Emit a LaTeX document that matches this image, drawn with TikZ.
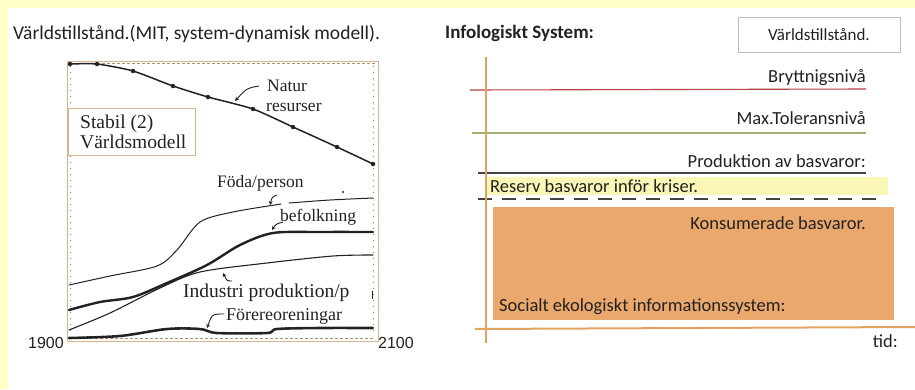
\documentclass[tikz,border=0pt]{standalone}
\usepackage{fontspec}
\setmainfont{Carlito}
\newfontfamily\plotfont{Liberation Serif}
\newfontfamily\numfont{Liberation Sans}
\usetikzlibrary{arrows.meta}
\definecolor{pagebg}{HTML}{FFFFC8}
\definecolor{frametan}{HTML}{D8B48E}
\definecolor{axisorange}{HTML}{E2A262}
\definecolor{breakred}{HTML}{B84040}
\definecolor{tolgreen}{HTML}{A0B070}
\definecolor{reserveyellow}{HTML}{FAF7B6}
\definecolor{consumed}{HTML}{EAA86C}
\definecolor{boxgray}{HTML}{BBBBBB}
\definecolor{ink}{HTML}{222222}
\tikzset{
  txt/.style={inner sep=0pt, text=ink, font=\fontsize{18.5}{21}\selectfont},
  plotlabel/.style={inner sep=0pt, text=ink, font=\plotfont\fontsize{17.5}{19}\selectfont},
  yearlabel/.style={inner sep=0pt, text=ink, font=\numfont\fontsize{16}{18}\selectfont},
  curve/.style={ink, line width=1.1pt, line cap=round, line join=round},
  curl/.style={ink, line width=0.9pt, -{Stealth[length=4pt,width=4pt]}},
  rdot/.style={circle, fill=ink, inner sep=0pt, minimum size=4.5pt},
  level/.style={line width=1.1pt}
}
\begin{document}
\begin{tikzpicture}[x=1pt,y=-1pt]
\useasboundingbox (0,0) rectangle (915,389);
% page background with the light yellow margin
\fill[pagebg] (0,0) rectangle (915,389);
\fill[white] (8,8) rectangle (915,389);

% ---------------- left: world model plot ----------------
\node[txt, font=\fontsize{19.5}{21}\selectfont, anchor=west] (lefttitle) at (13,34) {Världstillstånd.(MIT, system-dynamisk modell).};

\draw[frametan, line width=0.9pt] (67,61) rectangle (378,341);
\draw[frametan!80!black, line width=0.8pt, dash pattern=on 3pt off 2pt] (97,63) -- (375,63);
\draw[frametan!80!black, line width=0.8pt, dash pattern=on 3pt off 2pt] (70,338) -- (375,338);
\draw[frametan!70!black, line width=1pt, dash pattern=on 1pt off 5pt] (70,66) -- (70,336);
\draw[frametan!70!black, line width=1pt, dash pattern=on 1pt off 5pt] (373,66) -- (373,336);

\node[draw=frametan, line width=0.9pt, fill=white, minimum width=127pt, minimum height=47pt, anchor=north west, inner sep=0pt] (stabil) at (68,108) {};
\node[plotlabel, font=\plotfont\fontsize{19.5}{21}\selectfont, anchor=west, align=left] (stabiltext) at (80,132) {Stabil (2)\\[-1pt]Världsmodell};

% natural resources
\draw[curve, line width=1.5pt] plot[smooth, tension=0.4] coordinates {(70,64) (97,64) (133,71) (173,86) (208,97) (253,109) (293,127) (337,147) (373,164)};
\foreach \p [count=\i] in {(70,64),(97,64),(133,71),(173,86),(208,97),(253,109),(293,127),(337,147),(373,164)}
  \node[rdot] (nr\i) at \p {};
\node[plotlabel, anchor=west] (natur) at (267,86) {Natur};
\node[plotlabel, anchor=west] (resurser) at (266,107) {resurser};
\coordinate (naturtip) at (235,101);
\draw[curl] (natur.west) ++(-8,0) .. controls +(-12,2) .. (naturtip);

% food per person
\draw[curve, line width=1pt] plot[smooth, tension=0.5] coordinates {(69,285) (110,276) (157,266) (177,250) (200,222) (233,212) (281,204)};
\draw[curve, line width=1pt] plot[smooth, tension=0.5] coordinates {(289,203) (330,200) (373,198)};
\node[plotlabel, anchor=west] (foda) at (217,183) {Föda/person};
\coordinate (fodatip) at (270,205);
\draw[curl] (277,195) .. controls (272,197) .. (fodatip);
\fill[ink] (343,192) circle (1.2pt);

% population
\draw[curve, line width=2.4pt] plot[smooth, tension=0.5] coordinates {(69,310) (100,302) (133,297) (167,283) (207,265) (240,245) (273,233) (320,232) (373,232)};
\node[plotlabel, anchor=west] (befolkning) at (280,217) {befolkning};
\coordinate (beftip) at (272,230);
\draw[curl] (283,222) .. controls (276,224) .. (beftip);

% industrial output per person
\draw[curve, line width=1.1pt] plot[smooth, tension=0.5] coordinates {(69,330) (110,313) (160,288) (200,272) (267,263) (333,256) (373,255)};
\node[plotlabel, font=\plotfont\fontsize{19.5}{21}\selectfont, anchor=west] (industri) at (183,293) {Industri produktion/p};
\coordinate (indtip) at (223,273);
\draw[curl] (232,281) .. controls (227,281) .. (indtip);
\draw[ink, line width=1pt] (372,291) -- (372,299);

% pollution
\draw[curve, line width=2.6pt, dash pattern=on 2.5pt off 0.8pt] plot[smooth, tension=0.5] coordinates {(69,338) (120,336) (167,329) (200,329) (217,333) (267,333) (277,329) (320,328) (373,328)};
\node[plotlabel, font=\plotfont\fontsize{18}{20}\selectfont, anchor=west] (fororening) at (226,316) {Förereoreningar};
\coordinate (fortip) at (207,328);
\draw[curl] (224,314) .. controls (212,314) .. (fortip);

\node[yearlabel, anchor=east] (y1900) at (64,343) {1900};
\node[yearlabel, anchor=west] (y2100) at (378,343) {2100};

% ---------------- right: infological system ----------------
\node[txt, font=\bfseries\fontsize{19}{21}\selectfont, anchor=west] (infotitle) at (445,33) {Infologiskt System:};
\node[draw=boxgray, line width=0.8pt, minimum width=162pt, minimum height=35pt, inner sep=0pt, txt, font=\fontsize{17}{19}\selectfont] (state) at (819,34.5) {Världstillstånd.};

% levels
\coordinate (redL) at (470,90);   \coordinate (redR) at (866,89);
\coordinate (greenL) at (472,133); \coordinate (greenR) at (866,133);
\coordinate (blackL) at (478,173); \coordinate (blackR) at (866,173);
\draw[level, breakred] (redL) -- (redR);
\draw[level, tolgreen] (greenL) -- (greenR);
\draw[level, ink!85] (blackL) -- (blackR);
\node[txt, anchor=east] (bryt) at (866,78) {Bryttnigsnivå};
\node[txt, anchor=east] (maxtol) at (866,118) {Max.Toleransnivå};
\node[txt, anchor=east] (prod) at (866,161) {Produktion av basvaror:};

% reserve band
\fill[reserveyellow] (486,177) rectangle (888,195);
\node[txt, anchor=west] (reserv) at (490,186) {Reserv basvaror inför kriser.};
\coordinate (dashL) at (478,199); \coordinate (dashR) at (878,199);
\draw[ink!85, line width=2pt, dash pattern=on 14pt off 10pt] (dashL) -- (dashR);

% consumed goods
\fill[consumed] (493,207) rectangle (894,320);
\node[txt, anchor=east] (kons) at (866,223) {Konsumerade basvaror.};
\node[txt, anchor=west] (socialt) at (499,307) {Socialt ekologiskt informationssystem:};

% axes
\coordinate (vtop) at (486,57); \coordinate (vbot) at (486,343);
\coordinate (hleft) at (475,329); \coordinate (hright) at (915,327);
\draw[axisorange, line width=2pt] (vtop) -- (vbot);
\draw[axisorange, line width=2pt] (hleft) -- (hright);
\node[txt, anchor=east] (tid) at (898,341) {tid:};
\end{tikzpicture}
\end{document}
